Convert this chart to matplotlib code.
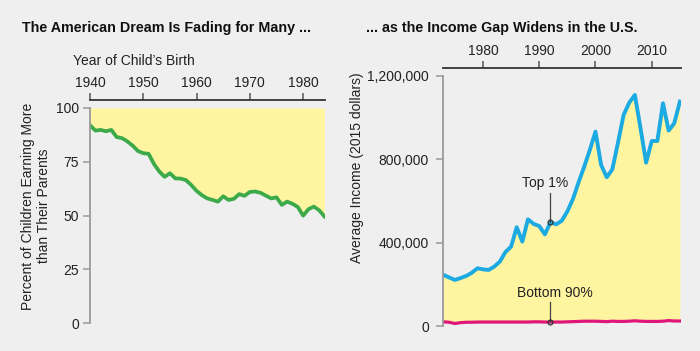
import matplotlib
matplotlib.use("Agg")
import matplotlib.pyplot as plt
import numpy as np

plt.rcParams['font.family'] = ['Liberation Sans', 'DejaVu Sans']

# ---- Data: left panel (absolute mobility) ----
birth_years = list(range(1940, 1985))
pct_earning_more = [92, 89.5, 89.8, 89.2, 89.8, 86.5, 86, 84.5, 82.5, 80,
                    79, 78.7, 74, 70.5, 68, 69.7, 67.3, 67.2, 66.5, 64.2,
                    61.5, 59.5, 58, 57.3, 56.5, 59, 57.3, 57.8, 60, 59.2,
                    61, 61.2, 60.6, 59.3, 58, 58.5, 55, 56.5, 55.5, 54,
                    50, 53, 54.2, 52.5, 49.6]

# ---- Data: right panel (average income, 2015 dollars) ----
income_years = list(range(1973, 2016))
top1 = [245, 233, 221, 230, 240, 255, 277, 272, 269, 285,
        309, 355, 381, 474, 405, 512, 490, 480, 440, 498,
        488, 505, 550, 610, 690, 765, 845, 933, 773, 714,
        752, 880, 1013, 1072, 1109, 950, 784, 888, 888, 1069,
        938, 973, 1077]
top1 = [v * 1000 for v in top1]
bottom90 = [20, 18, 12, 16, 18, 18, 19, 19, 19, 19,
            19, 19, 19, 19, 19, 19, 20, 20, 19, 19,
            19, 19, 20, 21, 22, 23, 23, 23, 22, 21,
            23, 22, 22, 23, 25, 23, 22, 22, 22, 23,
            26, 24, 24]
bottom90 = [v * 1000 for v in bottom90]

left_xticks = [1940, 1950, 1960, 1970, 1980]
right_xticks = [1980, 1990, 2000, 2010]
left_yticks = [0, 25, 50, 75, 100]
right_yticks = [0, 400000, 800000, 1200000]
right_yticklabels = ["0", "400,000", "800,000", "1,200,000"]

BG = "#EFEFEF"
YELLOW = "#FFF5A0"
GREEN = "#3DAA4A"
BLUE = "#1CAAE2"
PINK = "#E0177B"
DARK = "#222222"
GRAY = "#9A9A9A"

fig = plt.figure(figsize=(7, 3.51), dpi=100, facecolor=BG)

def style(ax):
    ax.set_facecolor(BG)
    for s in ["right", "bottom"]:
        ax.spines[s].set_visible(False)
    ax.spines["top"].set_color("#333333")
    ax.spines["top"].set_linewidth(1.3)
    ax.spines["left"].set_color(GRAY)
    ax.spines["left"].set_linewidth(1.3)
    ax.xaxis.set_ticks_position("top")
    ax.xaxis.set_label_position("top")
    ax.tick_params(axis="x", direction="out", length=5, width=1.1,
                   color="#555555", labelsize=10, labelcolor=DARK, pad=2)
    ax.tick_params(axis="y", direction="out", length=5, width=1.1,
                   color=GRAY, labelsize=10, labelcolor=DARK, pad=3)

# Left panel
axL = fig.add_axes([90/700, (351-323.3)/351, 235/700, (323.3-100)/351])
style(axL)
axL.fill_between(birth_years, pct_earning_more, 100, color=YELLOW, lw=0)
axL.plot(birth_years, pct_earning_more, color=GREEN, lw=2.7, solid_joinstyle="round")
axL.set_xlim(1940, 1984.1)
axL.set_ylim(0, 103.7)
axL.set_xticks(left_xticks)
axL.set_yticks(left_yticks)
axL.spines["left"].set_bounds(0, 100)
axL.set_ylabel("Percent of Children Earning More\nthan Their Parents",
               fontsize=10, color=DARK, linespacing=1.15)
axL.yaxis.set_label_coords(-0.166, 0.525)

fig.text(73/700, 1 - 61/351, "Year of Child\u2019s Birth", fontsize=10,
         color=DARK, ha="left", va="center")
fig.text(22/700, 1 - 28/351, "The American Dream Is Fading for Many ...",
         fontsize=10.3, fontweight="bold", color="#111111", ha="left", va="center")

# Right panel
axR = fig.add_axes([443/700, (351-326)/351, 238/700, (326-68)/351])
style(axR)
axR.fill_between(income_years, bottom90, top1, color=YELLOW, lw=0)
axR.plot(income_years, top1, color=BLUE, lw=2.8, solid_joinstyle="round")
axR.plot(income_years, bottom90, color=PINK, lw=2.3, solid_joinstyle="round")
axR.set_xlim(1972.9, 2015.2)
axR.set_ylim(0, 1238400)
axR.set_xticks(right_xticks)
axR.set_yticks(right_yticks)
axR.set_yticklabels(right_yticklabels)
axR.spines["left"].set_bounds(0, 1200000)
axR.tick_params(axis="y", pad=5)
axR.set_ylabel("Average Income (2015 dollars)", fontsize=10, color=DARK)
axR.yaxis.set_label_coords(-0.332, 0.612)

# annotations
i92 = income_years.index(1992)
axR.plot([1992, 1992], [638000, top1[i92]], color="#444444", lw=0.9)
axR.plot([1992], [top1[i92]], marker="o", ms=3.5, mfc="none", mec="#333333", mew=0.9)
axR.text(1991.1, 686000, "Top 1%", fontsize=10, color=DARK, ha="center", va="center")
axR.plot([1992, 1992], [117000, bottom90[i92]], color="#444444", lw=0.9)
axR.plot([1992], [bottom90[i92]], marker="o", ms=3.5, mfc="none", mec="#333333", mew=0.9)
axR.text(1992.7, 160000, "Bottom 90%", fontsize=10, color=DARK, ha="center", va="center")

fig.text(366/700, 1 - 28/351, "... as the Income Gap Widens in the U.S.",
         fontsize=10.3, fontweight="bold", color="#111111", ha="left", va="center")

fig.savefig("out.png", dpi=100, facecolor=BG)
